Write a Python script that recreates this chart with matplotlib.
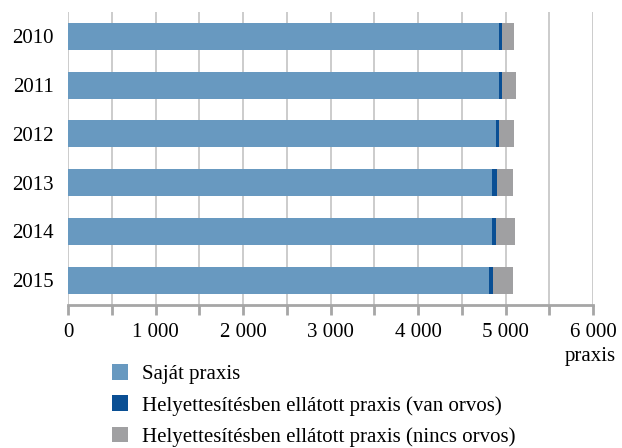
import matplotlib
matplotlib.use("Agg")
import matplotlib.pyplot as plt
from matplotlib.patches import Patch
from matplotlib.ticker import MultipleLocator, FuncFormatter

years = ["2010", "2011", "2012", "2013", "2014", "2015"]
sajat = [4920, 4920, 4895, 4850, 4845, 4815]
van_orvos = [40, 43, 31, 53, 50, 46]
nincs_orvos = [137, 153, 175, 187, 214, 229]
labels = ["Saját praxis",
          "Helyettesítésben ellátott praxis (van orvos)",
          "Helyettesítésben ellátott praxis (nincs orvos)"]
colors = ["#6899c0", "#0a4f94", "#a0a0a2"]

plt.rcParams['font.family'] = ['Liberation Serif', 'DejaVu Serif']

fig = plt.figure(figsize=(6.22, 4.48), dpi=100)
ax = fig.add_axes([68/622, 1-304.5/448, (593-68)/622, (304.5-12)/448])

y = list(range(len(years)))
h = 0.55
left = [0]*len(years)
for vals, c in zip([sajat, van_orvos, nincs_orvos], colors):
    ax.barh(y, vals, left=left, height=h, color=c, zorder=3)
    left = [a+b for a, b in zip(left, vals)]

ax.set_ylim(len(years)-0.5, -0.5)
ax.set_yticks(y)
ax.set_yticklabels(years)
ax.set_xlim(0, 6000)
ax.xaxis.set_major_locator(MultipleLocator(1000))
ax.xaxis.set_minor_locator(MultipleLocator(500))
ax.xaxis.set_major_formatter(FuncFormatter(lambda v, p: f"{int(v):,}".replace(",", " ")))
ax.grid(axis='x', which='both', color='#c4c4c4', linewidth=1.2, zorder=0)
for s in ['top', 'right', 'left']:
    ax.spines[s].set_visible(False)
ax.spines['bottom'].set_color('#a6a6a6')
ax.spines['bottom'].set_linewidth(2)
ax.spines['bottom'].set_zorder(4)
ax.tick_params(axis='x', which='both', direction='out', length=7, width=2,
               color='#a6a6a6', labelsize=15, pad=6)
ax.tick_params(axis='y', length=0, labelsize=15, pad=10)

fig.text(616/622, 1-356/448, "praxis", ha='right', va='center', fontsize=15)

handles = [Patch(facecolor=c, edgecolor='none') for c in colors]
fig.legend(handles, labels, loc='upper left', bbox_to_anchor=(112/622, 1-364/448),
           frameon=False, fontsize=15, handlelength=0.77, handleheight=0.77,
           handletextpad=0.67, labelspacing=0.55, borderpad=0, borderaxespad=0)

fig.savefig("out.png", dpi=100)
